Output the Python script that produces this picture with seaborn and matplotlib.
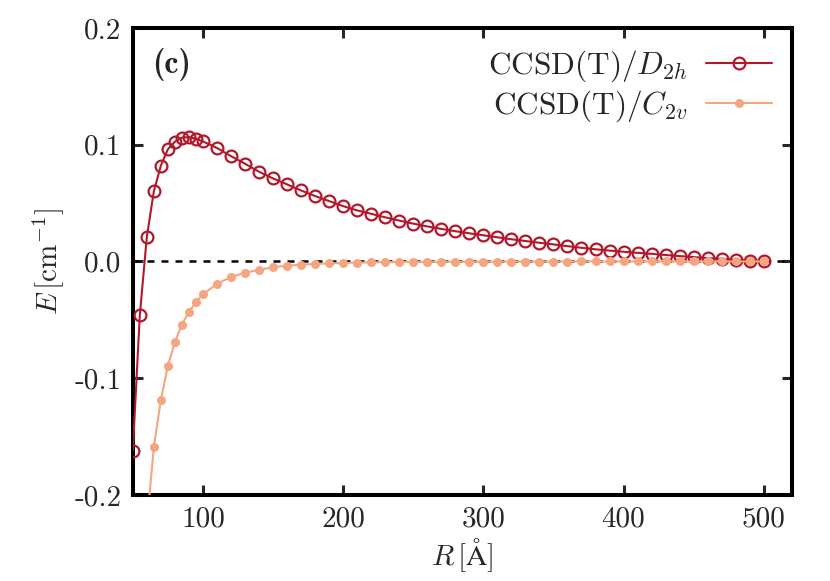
import numpy as np
import pandas as pd
import seaborn as sns
import matplotlib
matplotlib.use("Agg")
from matplotlib import pyplot as plt

# values
r_d2h = [50, 55, 60, 65, 70, 75, 80, 85, 90, 95, 100,
         110, 120, 130, 140, 150, 160, 170, 180, 190, 200,
         210, 220, 230, 240, 250, 260, 270, 280, 290, 300,
         310, 320, 330, 340, 350, 360, 370, 380, 390, 400,
         410, 420, 430, 440, 450, 460, 470, 480, 490, 500]
e_d2h = [-0.162, -0.046, 0.021, 0.060, 0.082, 0.096, 0.1025, 0.106, 0.1065, 0.105, 0.1028,
         0.0972, 0.0902, 0.0837, 0.0768, 0.0711, 0.0660, 0.0608, 0.0560, 0.0517, 0.0474,
         0.0437, 0.0408, 0.0378, 0.0350, 0.0324, 0.0300, 0.0279, 0.0259, 0.0241, 0.0224,
         0.0207, 0.0190, 0.0175, 0.0160, 0.0146, 0.0131, 0.0117, 0.0104, 0.0093, 0.0083,
         0.0074, 0.0065, 0.0055, 0.0046, 0.0037, 0.0029, 0.0022, 0.0014, 0.0008, 0.0002]

r_c2v = [60, 65, 70, 75, 80, 85, 90, 95, 100,
         110, 120, 130, 140, 150, 160, 170, 180, 190, 200,
         210, 220, 230, 240, 250, 260, 270, 280, 290, 300,
         310, 320, 330, 340, 350, 360, 370, 380, 390, 400,
         410, 420, 430, 440, 450, 460, 470, 480, 490, 500]
e_c2v = [-0.225, -0.159, -0.1185, -0.0895, -0.069, -0.054, -0.0433, -0.0348, -0.0282,
         -0.0191, -0.0134, -0.0097, -0.0072, -0.0050, -0.0036, -0.0028, -0.0021, -0.0017, -0.0013,
         -0.0010, -0.0008, -0.0006, -0.0005, -0.0004, -0.0003, -0.0003, -0.0002, -0.0002, -0.0002,
         -0.0001, -0.0001, -0.0001, -0.0001, -0.0001, -0.0001, 0.0, 0.0, 0.0, 0.0,
         0.0, 0.0, 0.0, 0.0, 0.0, 0.0, 0.0, 0.0, 0.0, 0.0]

xticks = [100, 200, 300, 400, 500]
yticks = [-0.2, -0.1, 0.0, 0.1, 0.2]
ytick_labels = ['-0.2', '-0.1', '0.0', '0.1', '0.2']

red = '#b2182b'
orange = '#f4a582'

sns.set_style("ticks")
plt.rcParams.update({
    'font.family': ['cmr10', 'DejaVu Serif'],
    'mathtext.fontset': 'cm',
    'axes.unicode_minus': False,
    'axes.formatter.use_mathtext': True,
    'font.size': 21,
    'axes.linewidth': 2.9,
    'xtick.direction': 'in', 'ytick.direction': 'in',
    'xtick.major.size': 7.5, 'ytick.major.size': 7.5,
    'xtick.major.width': 2.2, 'ytick.major.width': 2.2,
    'xtick.top': True, 'ytick.right': True,
    'axes.edgecolor': 'black',
})

df1 = pd.DataFrame({'R': r_d2h, 'E': e_d2h})
df2 = pd.DataFrame({'R': r_c2v, 'E': e_c2v})

fig = plt.figure(figsize=(8.3, 5.81), dpi=100)
ax = fig.add_axes([0.160, 0.148, 0.794, 0.804])

ax.axhline(0, color='black', lw=1.8, ls=(0, (2.8, 2.8)), zorder=1)

sns.lineplot(data=df1, x='R', y='E', ax=ax, color=red, lw=1.5,
             marker='o', markersize=8.5, markerfacecolor='none',
             markeredgecolor=red, markeredgewidth=1.6,
             label=r'$\mathrm{CCSD(T)}/D_{2h}$', zorder=3)
sns.lineplot(data=df2, x='R', y='E', ax=ax, color=orange, lw=1.5,
             marker='o', markersize=6.5, markerfacecolor=orange,
             markeredgecolor=orange, markeredgewidth=0,
             label=r'$\mathrm{CCSD(T)}/C_{2v}$', zorder=4)

ax.set_xlim(50, 520)
ax.set_ylim(-0.2, 0.2)
ax.set_xticks(xticks)
ax.set_xticklabels([str(t) for t in xticks])
ax.set_yticks(yticks)
ax.set_yticklabels(ytick_labels)
ax.tick_params(axis='both', labelsize=21, pad=8)
for sp in ax.spines.values():
    sp.set_visible(True)
    sp.set_linewidth(2.9)

ax.set_xlabel(r'$R\,[\mathrm{\AA}]$', fontsize=21, labelpad=3)
ax.set_ylabel(r'$E\,[\mathrm{cm}^{-1}]$', fontsize=21, labelpad=6)

ax.text(0.03, 0.922, '(c)', transform=ax.transAxes, family='cmb10',
        fontsize=23, ha='left', va='center')

ax.legend(loc='upper right', frameon=False, markerfirst=False,
          fontsize=22.5, handlelength=2.1, labelspacing=0.15,
          borderaxespad=0.25, handletextpad=0.6)

fig.savefig('out.png', dpi=100)
